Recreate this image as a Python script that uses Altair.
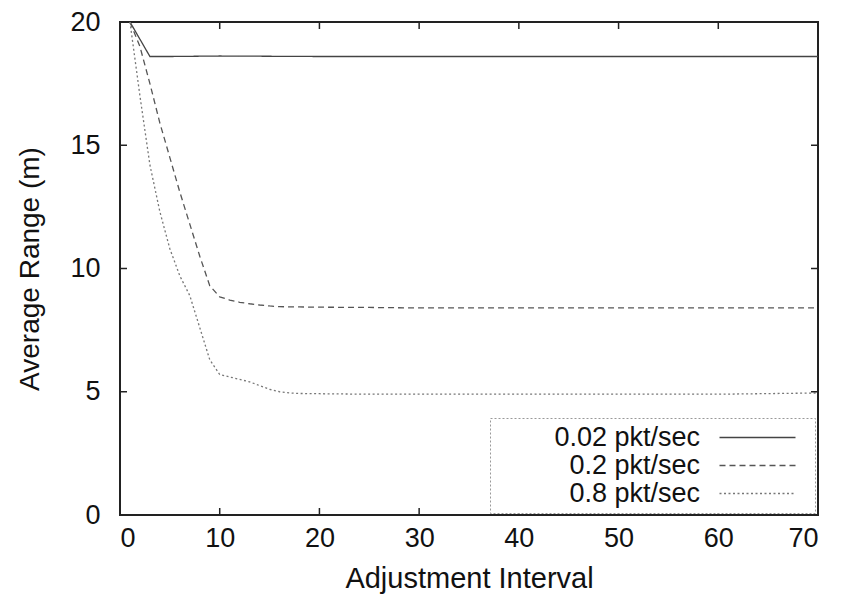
import altair as alt
import pandas as pd

series = ["0.02 pkt/sec", "0.2 pkt/sec", "0.8 pkt/sec"]

x_low = [1, 2, 3, 5, 10, 20, 30, 40, 50, 60, 70]
y_low = [20, 19.3, 18.6, 18.6, 18.62, 18.6, 18.6, 18.6, 18.6, 18.6, 18.6]

x_mid = [1, 2, 3, 4, 5, 6, 7, 8, 9, 10, 11, 12, 13, 14, 15, 16, 18, 20, 25, 30, 40, 50, 60, 70]
y_mid = [20, 19.0, 17.5, 15.9, 14.5, 13.1, 11.8, 10.5, 9.3, 8.85, 8.72, 8.63, 8.57, 8.52, 8.48,
         8.45, 8.44, 8.43, 8.42, 8.4, 8.4, 8.4, 8.4, 8.4]

x_high = [1, 2, 3, 4, 5, 6, 7, 8, 9, 10, 11, 12, 13, 14, 15, 16, 17, 18, 20, 25, 30, 40, 50, 60, 70]
y_high = [20, 17.0, 14.2, 12.3, 10.8, 9.7, 8.9, 7.6, 6.3, 5.7, 5.6, 5.5, 5.4, 5.25, 5.1, 5.0,
          4.95, 4.93, 4.92, 4.9, 4.9, 4.9, 4.9, 4.9, 4.95]

x_ticks = [0, 10, 20, 30, 40, 50, 60, 70]
y_ticks = [0, 5, 10, 15, 20]
x_inner = [10, 20, 30, 40, 50, 60]
y_inner = [5, 10, 15]

rows = []
for name, xs, ys in zip(series, [x_low, x_mid, x_high], [y_low, y_mid, y_high]):
    for xv, yv in zip(xs, ys):
        rows.append({"interval": xv, "range": yv, "rate": name})
df = pd.DataFrame(rows)

W, H = 698, 493
FONT = "Liberation Sans"
xscale = alt.Scale(domain=[0, 70], nice=False, zero=False)
yscale = alt.Scale(domain=[0, 20], nice=False)

xaxis = alt.Axis(orient="bottom", values=x_ticks, title="Adjustment Interval",
                 ticks=False, domain=False, format="d", labelFontSize=27,
                 titleFontSize=29, labelPadding=10, titlePadding=13)
yaxis = alt.Axis(orient="left", values=y_ticks, title="Average Range (m)",
                 ticks=False, domain=False, format="d", labelFontSize=27,
                 titleFontSize=28, labelPadding=20, titlePadding=25)

legend = alt.Legend(
    title=None, orient="none", legendX=370, legendY=396,
    symbolType="M-4,0L4,0M5.1,0L5.1,0", symbolSize=361, symbolStrokeWidth=1.3,
    symbolOffset=alt.ExprRef("248"),
    labelFontSize=27, labelFont=FONT, labelColor="#111",
    labelAlign="right", labelOffset=alt.ExprRef("-71"),
    strokeColor="#999", fillColor="white",
    padding=6, rowPadding=0,
)

base = alt.Chart(df)

lines = base.mark_line(strokeWidth=1.3, clip=True).encode(
    x=alt.X("interval:Q", scale=xscale, axis=xaxis),
    y=alt.Y("range:Q", scale=yscale, axis=yaxis),
    color=alt.Color("rate:N", scale=alt.Scale(domain=series, range=["#444444", "#555555", "#777777"]),
                    legend=legend),
    strokeDash=alt.StrokeDash("rate:N", scale=alt.Scale(domain=series, range=[[1, 0], [6, 4], [2, 2.5]]),
                              legend=legend),
)

xt = alt.Chart(pd.DataFrame({"interval": x_inner})).mark_rule(color="#222", strokeWidth=1.5)
yt = alt.Chart(pd.DataFrame({"range": y_inner})).mark_rule(color="#222", strokeWidth=1.5)
xpos = alt.X("interval:Q", scale=xscale, axis=xaxis)
ypos = alt.Y("range:Q", scale=yscale, axis=yaxis)
bottom_ticks = xt.encode(x=xpos, y=alt.value(H), y2=alt.value(H - 7))
top_ticks = xt.encode(x=xpos, y=alt.value(0), y2=alt.value(7))
left_ticks = yt.encode(y=ypos, x=alt.value(0), x2=alt.value(7))
right_ticks = yt.encode(y=ypos, x=alt.value(W - 7), x2=alt.value(W))

chart = alt.layer(
    lines, bottom_ticks, top_ticks, left_ticks, right_ticks
).properties(
    width=W, height=H,
    autosize=alt.AutoSizeParams(type="none"),
    padding={"left": 112, "top": 14, "right": 20, "bottom": 80},
).configure_view(
    stroke="#222", strokeWidth=2
).configure_axis(
    grid=False, labelFont=FONT, titleFont=FONT, labelColor="#111", titleColor="#111",
    titleFontWeight="normal"
).configure_legend(
    strokeDash=[2, 2]
)

chart.save("out.html", embed_options={"renderer": "svg", "actions": False})
